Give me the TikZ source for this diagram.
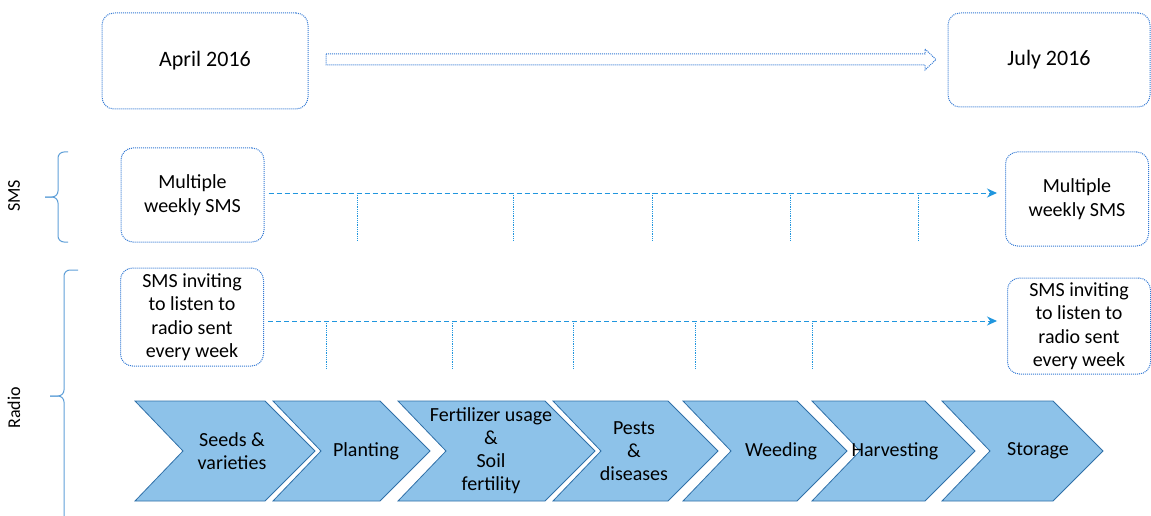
\documentclass[tikz,border=0pt]{standalone}
\usepackage{fontspec}
\setmainfont{Carlito}
\usepackage{tikz}
\usetikzlibrary{arrows.meta}

\definecolor{boxblue}{RGB}{52,122,212}
\definecolor{lineblue}{RGB}{32,150,222}
\definecolor{braceblue}{RGB}{96,160,216}
\definecolor{chevfill}{RGB}{141,194,233}
\definecolor{chevline}{RGB}{48,112,168}

\begin{document}
\begin{tikzpicture}[x=1pt,y=-1pt,
            date box/.style={draw=boxblue, densely dotted, line width=1pt, rounded corners=12pt, align=center, inner sep=0pt, font=\fontsize{22}{26}\selectfont},
            info box/.style={draw=boxblue, densely dotted, line width=1pt, rounded corners=12pt, align=center, inner sep=0pt, minimum width=143pt, font=\fontsize{20}{23.5}\selectfont},
            dash arrow/.style={draw=lineblue, dashed, dash pattern=on 5pt off 3pt, line width=1pt, -{Stealth[length=10pt,width=9pt]}},
            week tick/.style={draw=lineblue, densely dotted, line width=0.8pt},
            brace line/.style={draw=braceblue, line width=1pt, rounded corners=6pt},
            side label/.style={rotate=90, font=\fontsize{18}{20}\selectfont},
            chevron/.style={fill=chevfill, draw=chevline, line width=0.8pt},
            chev text/.style={align=center, inner sep=0pt, font=\fontsize{20}{23}\selectfont},
            ]
            \useasboundingbox (0,0) rectangle (1151,516);

            % dates
            \node[date box, minimum width=206pt, minimum height=96pt] (apr) at (205,61) {April 2016};
            \node[date box, minimum width=202pt, minimum height=94pt] (jul) at (1049,60) {July 2016};
            \draw[boxblue, densely dotted, line width=1pt] (326,54) -- (925,54) -- (925,49) -- (936,59.5) -- (925,70) -- (925,65) -- (326,65) -- cycle;

            % SMS row
            \node[info box, minimum height=94pt] (sms1) at (192.5,195) {Multiple\\weekly SMS};
            \node[info box, minimum height=94pt] (sms2) at (1077,199) {Multiple\\weekly SMS};
            \draw[dash arrow] ([xshift=4pt,yshift=2pt]sms1.east) -- ([xshift=-8pt,yshift=2pt]sms1.east -| sms2.west);
            \foreach \x in {357,513,652,790,918}
                \draw[week tick] (\x,193) -- (\x,241);

            % radio row
            \node[info box, minimum height=98pt] (rad1) at (192,317) {SMS inviting\\to listen to\\radio sent\\every week};
            \node[info box, minimum height=96pt] (rad2) at (1079,326) {SMS inviting\\to listen to\\radio sent\\every week};
            \draw[dash arrow] ([xshift=4pt,yshift=-4pt]rad1.east) -- ([xshift=-10pt,yshift=-4pt]rad1.east -| rad2.west);
            \foreach \x in {326,452,573,695,812}
                \draw[week tick] (\x,321) -- (\x,368);

            % braces
            \draw[brace line] (68,152) -- (58,152) -- (58,197) -- (45,197);
            \draw[brace line] (68,242) -- (58,242) -- (58,197) -- (45,197);
            \draw[brace line] (78,270) -- (64,270) -- (64,396) -- (50,396);
            \draw[brace line] (78,530) -- (64,530) -- (64,396) -- (50,396);
            \node[side label] (smslbl) at (14,196) {SMS};
            \node[side label] (radlbl) at (14,408) {Radio};

            % topics
            \foreach \l/\r/\tx/\t [count=\i] in {135/315/232/{Seeds \&\\varieties}, 273/430/366/{Planting}, 398/595/491/{Fertilizer usage\\\&\\Soil\\fertility}, 553/718/634/{Pests\\\&\\diseases}, 683/847/781/{Weeding}, 812/975/895/{Harvesting}, 942/1103/1038/{Storage}} {
                \draw[chevron] (\l,401) -- (\r-50,401) -- (\r,451) -- (\r-50,501) -- (\l,501) -- (\l+48,451) -- cycle;
                \node[chev text] (ch\i) at (\tx,451) {\t};
            }
        \end{tikzpicture}
\end{document}
